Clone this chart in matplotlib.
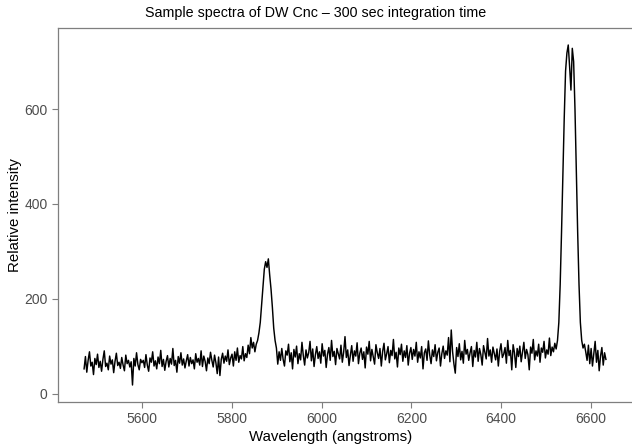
import numpy as np
import matplotlib
matplotlib.use('Agg')
import matplotlib.pyplot as plt

# Spectrum of DW Cnc, sampled every 3 angstroms starting at 5470
wl_start = 5470
wl_step = 3

# 5470 - 5599 : continuum, sky line dip near 5578
seg_blue = [52, 78, 45, 70, 88, 58, 66, 40, 74, 61, 83, 55, 68, 47, 72, 90, 57, 64, 50, 79,
            62, 71, 44, 68, 85, 59, 66, 53, 76, 60, 48, 81, 63, 70, 56, 67, 18, 74, 58, 86,
            61, 50, 72, 65]
# 5602 - 5848
seg_mid = [70, 55, 82, 60, 47, 75, 66, 88, 58, 69, 52, 77, 63, 91, 57, 72, 49,
           68, 80, 56, 74, 62, 95, 59, 70, 45, 78, 64, 86, 60, 73, 54, 69, 82, 58, 76, 63,
           71, 52, 84, 66, 74, 60, 90, 57, 79, 68, 48, 75, 63, 87, 70, 56, 81, 65, 42, 77,
           38, 72, 85, 64, 79, 68, 92, 61, 75, 83, 58, 88, 70, 96, 66, 80, 73, 99, 69, 84,
           76, 102, 84, 118, 96, 108]
# 5851 - 5908 : He I 5876 line
seg_hei = [88, 104, 112, 128, 150, 188, 228, 262, 278, 266, 284, 250, 220, 182, 138, 112,
           96, 62, 88, 70]
# 5911 - 6523
seg_red = [95, 72, 58, 90, 81, 104, 67, 86, 52, 93, 77, 100, 63, 84, 71, 108, 80, 60, 92, 75,
           86, 110, 69, 94, 57, 82, 99, 74, 88, 64, 105, 79, 91, 55, 83, 97, 70, 112, 78, 89,
           61, 95, 84, 73, 102, 66, 87, 120, 76, 92, 59, 81, 101, 68, 90, 79, 107, 63, 85, 96,
           72, 88, 54, 98, 83, 110, 69, 93, 77, 62, 103, 86, 74, 95, 58, 89, 106, 71, 84, 99,
           65, 91, 80, 114, 73, 87, 56, 96, 82, 104, 68, 90, 76, 101, 60, 85, 97, 72, 93, 79,
           108, 66, 88, 75, 99, 52, 86, 94, 70, 111, 81, 63, 92, 78, 103, 69, 87, 96, 58, 84,
           100, 74, 90, 81, 118, 67, 134, 88, 62, 43, 97, 78, 105, 71, 89, 64, 112, 83, 93, 70,
           86, 99, 57, 91, 77, 108, 68, 95, 82, 60, 101, 87, 73, 116, 79, 92, 66, 98, 84, 71,
           94, 58, 89, 105, 76, 83, 97, 64, 112, 80, 91, 50, 103, 86, 55, 95, 78, 100, 67, 88,
           108, 74, 93, 82, 50, 98, 85, 114, 71, 90, 79, 104, 66, 96, 87, 110, 75, 92, 83, 117,
           80, 98, 88, 106, 94]
# 6526 - 6586 : H-alpha
seg_halpha = [112, 150, 230, 340, 460, 580, 680, 718, 735, 690, 640, 728, 700, 600, 470,
              340, 230, 150, 112, 96, 104]
# 6589 - 6634
seg_tail = [88, 70, 102, 63, 95, 58, 84, 110, 66, 91, 48, 79, 97, 60, 86, 72]

intensity = np.array(seg_blue + seg_mid + seg_hei + seg_red + seg_halpha + seg_tail, dtype=float)
wavelength = wl_start + wl_step * np.arange(len(intensity))

x_ticks = [5600, 5800, 6000, 6200, 6400, 6600]
y_ticks = [0, 200, 400, 600]

plt.rcParams['font.family'] = ['Liberation Sans', 'DejaVu Sans']
grey = '#4d4d4d'
spine_col = '#7f7f7f'

fig = plt.figure(figsize=(6.32, 4.48), dpi=100)
ax = fig.add_axes([58 / 632, 1 - 402 / 448, 1 - 58 / 632, (402 - 28) / 448])

ax.plot(wavelength, intensity, color='black', linewidth=1.05)

# ggplot-style 5% expansion
xr = wavelength.max() - wavelength.min()
yr = intensity.max() - intensity.min()
ax.set_xlim(wavelength.min() - 0.05 * xr, wavelength.max() + 0.05 * xr)
ax.set_ylim(intensity.min() - 0.05 * yr, intensity.max() + 0.05 * yr)

ax.set_xticks(x_ticks)
ax.set_yticks(y_ticks)
ax.tick_params(colors=spine_col, labelcolor=grey, labelsize=10, length=4, width=0.8)
for side in ['left', 'bottom', 'top']:
    ax.spines[side].set_color(spine_col)
    ax.spines[side].set_linewidth(0.9)
ax.spines['right'].set_visible(False)

fig.text(316 / 632, 1 - 13 / 448, 'Sample spectra of DW Cnc – 300 sec integration time',
         ha='center', va='center', fontsize=10.3)
fig.text(331 / 632, 1 - 437 / 448, 'Wavelength (angstroms)', ha='center', va='center', fontsize=10.8)
fig.text(15 / 632, 1 - 215 / 448, 'Relative intensity', ha='center', va='center',
         rotation=90, fontsize=10.8)

fig.savefig('out.png', dpi=100)
